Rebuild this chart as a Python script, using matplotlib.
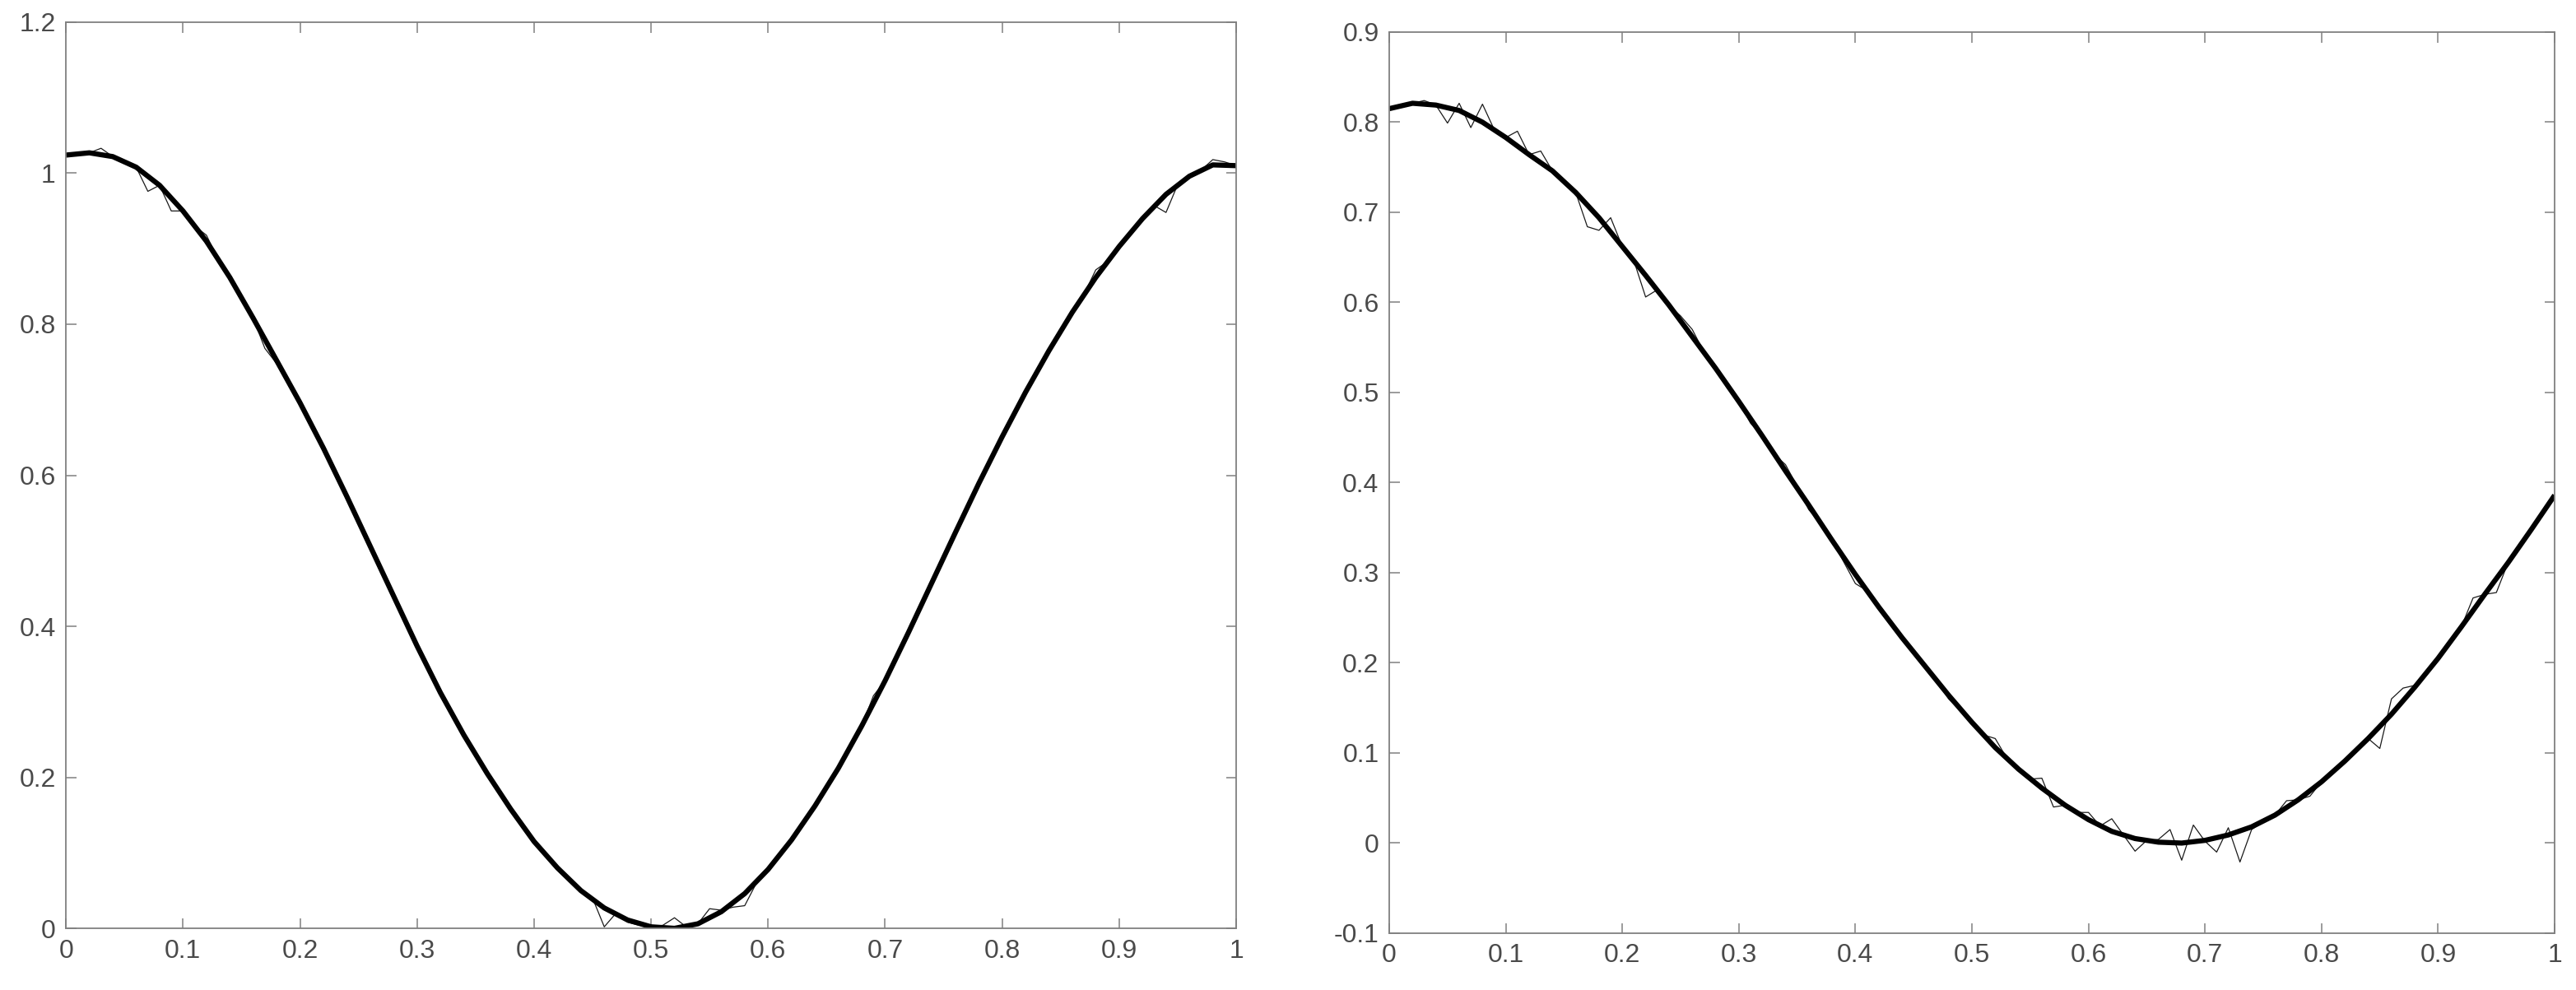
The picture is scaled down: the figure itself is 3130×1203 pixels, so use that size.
import numpy as np
import matplotlib.pyplot as plt

# smooth fits (step 0.02) and noisy data (step 0.01)
x_fit = np.round(np.arange(0, 51) * 0.02, 2)
x_raw = np.round(np.arange(0, 101) * 0.01, 2)

left_fit = [1.024, 1.027, 1.022, 1.008, 0.984, 0.950, 0.910, 0.862, 0.808, 0.752,
            0.696, 0.636, 0.572, 0.506, 0.440, 0.374, 0.312, 0.256, 0.205, 0.158,
            0.115, 0.080, 0.050, 0.027, 0.011, 0.002, 0.000, 0.006, 0.022, 0.046,
            0.078, 0.117, 0.162, 0.212, 0.268, 0.328, 0.392, 0.458, 0.524, 0.589,
            0.651, 0.710, 0.765, 0.816, 0.862, 0.903, 0.940, 0.972, 0.996, 1.011,
            1.010]

left_raw = [1.024, 1.026, 1.027, 1.033, 1.022, 1.016, 1.008, 0.976, 0.984, 0.950,
            0.950, 0.930, 0.918, 0.886, 0.862, 0.836, 0.808, 0.768, 0.748, 0.725,
            0.696, 0.666, 0.636, 0.604, 0.572, 0.539, 0.506, 0.473, 0.436, 0.407,
            0.374, 0.343, 0.312, 0.284, 0.256, 0.230, 0.205, 0.181, 0.158, 0.136,
            0.115, 0.098, 0.080, 0.062, 0.050, 0.040, 0.002, 0.020, 0.008, 0.004,
            0.002, 0.004, 0.014, 0.002, 0.006, 0.026, 0.024, 0.028, 0.030, 0.060,
            0.078, 0.097, 0.117, 0.139, 0.162, 0.187, 0.212, 0.240, 0.268, 0.308,
            0.328, 0.360, 0.392, 0.425, 0.458, 0.491, 0.524, 0.557, 0.589, 0.620,
            0.651, 0.681, 0.710, 0.738, 0.765, 0.791, 0.816, 0.840, 0.872, 0.883,
            0.903, 0.922, 0.940, 0.957, 0.948, 0.985, 0.996, 1.004, 1.018, 1.015,
            1.010]

right_fit = [0.815, 0.821, 0.819, 0.813, 0.800, 0.783, 0.764, 0.746, 0.722, 0.694,
             0.662, 0.630, 0.597, 0.562, 0.527, 0.490, 0.452, 0.413, 0.375, 0.336,
             0.298, 0.262, 0.228, 0.196, 0.164, 0.134, 0.106, 0.082, 0.061, 0.042,
             0.026, 0.013, 0.005, 0.001, 0.000, 0.003, 0.009, 0.018, 0.031, 0.048,
             0.068, 0.091, 0.116, 0.143, 0.173, 0.205, 0.240, 0.276, 0.311, 0.348,
             0.386]

right_raw = [0.815, 0.819, 0.821, 0.824, 0.819, 0.799, 0.821, 0.794, 0.820, 0.792,
             0.783, 0.790, 0.764, 0.768, 0.746, 0.735, 0.722, 0.684, 0.680, 0.694,
             0.662, 0.646, 0.606, 0.614, 0.597, 0.585, 0.570, 0.545, 0.527, 0.505,
             0.490, 0.466, 0.452, 0.432, 0.420, 0.396, 0.370, 0.355, 0.336, 0.312,
             0.288, 0.280, 0.262, 0.245, 0.228, 0.212, 0.196, 0.180, 0.160, 0.147,
             0.134, 0.120, 0.116, 0.094, 0.082, 0.071, 0.072, 0.040, 0.042, 0.034,
             0.034, 0.019, 0.027, 0.009, -0.009, 0.003, 0.004, 0.015, -0.019, 0.020,
             0.002, -0.010, 0.017, -0.021, 0.015, 0.024, 0.031, 0.047, 0.048, 0.052,
             0.068, 0.079, 0.091, 0.103, 0.116, 0.105, 0.160, 0.172, 0.175, 0.189,
             0.205, 0.222, 0.240, 0.272, 0.276, 0.278, 0.311, 0.328, 0.346, 0.366,
             0.386]

left_yticks = [0, 0.2, 0.4, 0.6, 0.8, 1, 1.2]
left_ylabels = ['0', '0.2', '0.4', '0.6', '0.8', '1', '1.2']
right_yticks = [-0.1, 0, 0.1, 0.2, 0.3, 0.4, 0.5, 0.6, 0.7, 0.8, 0.9]
right_ylabels = ['-0.1', '0', '0.1', '0.2', '0.3', '0.4', '0.5', '0.6', '0.7', '0.8', '0.9']
xticks = [0, 0.1, 0.2, 0.3, 0.4, 0.5, 0.6, 0.7, 0.8, 0.9, 1]
xlabels = ['0', '0.1', '0.2', '0.3', '0.4', '0.5', '0.6', '0.7', '0.8', '0.9', '1']

plt.rcParams['font.family'] = ['Liberation Sans', 'DejaVu Sans']

fig = plt.figure(figsize=(31.30, 12.03), dpi=100)
ax1 = fig.add_axes([0.0256, 0.0623, 0.4543, 0.9153])
ax2 = fig.add_axes([0.5393, 0.0574, 0.4524, 0.9102])


def style(ax, yticks, ylabels, ylim):
    ax.set_xlim(0, 1)
    ax.set_ylim(*ylim)
    ax.set_xticks(xticks)
    ax.set_xticklabels(xlabels)
    ax.set_yticks(yticks)
    ax.set_yticklabels(ylabels)
    ax.tick_params(direction='in', length=9, width=1.1, color='#808080',
                   labelsize=23, labelcolor='#4a4a4a', top=True, right=True, pad=9)
    for s in ax.spines.values():
        s.set_color('#808080')
        s.set_linewidth(1.3)


ax1.plot(x_raw, left_raw, color='#1a1a1a', lw=0.9)
ax1.plot(x_fit, left_fit, color='black', lw=4.5, solid_capstyle='butt')
style(ax1, left_yticks, left_ylabels, (0, 1.2))

ax2.plot(x_raw, right_raw, color='#1a1a1a', lw=0.9)
ax2.plot(x_fit, right_fit, color='black', lw=4.5, solid_capstyle='butt')
style(ax2, right_yticks, right_ylabels, (-0.1, 0.9))

fig.savefig('out.png', dpi=100)
